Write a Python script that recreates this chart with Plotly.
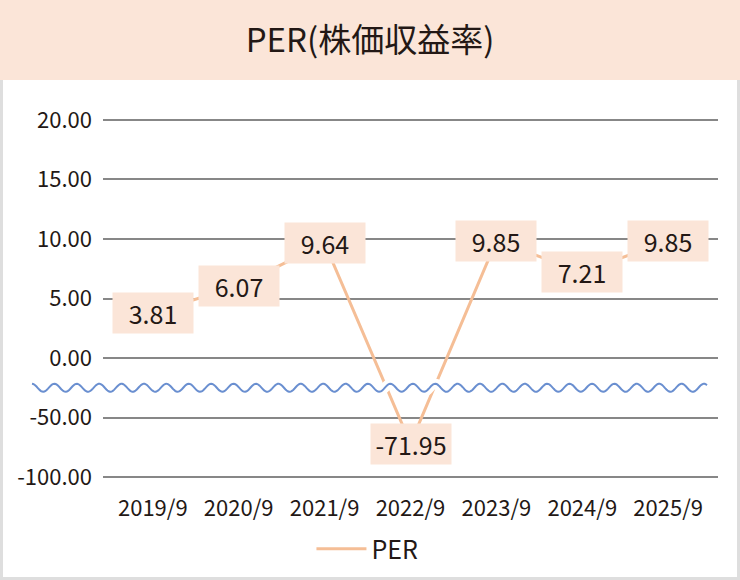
import numpy as np
import plotly.graph_objects as go

# data
periods = ["2019/9", "2020/9", "2021/9", "2022/9", "2023/9", "2024/9", "2025/9"]
per_values = [3.81, 6.07, 9.64, -71.95, 9.85, 7.21, 9.85]
tick_values = [20, 15, 10, 5, 0, -50, -100]

LINE_COLOR = "#F5BE96"
PEACH = "#FBE5D8"
TEXT_COLOR = "#231815"
GRID_COLOR = "#878787"
FONT = "Noto Sans CJK JP, Noto Sans, sans-serif"

W, H = 740, 580
ML, MR, MT, MB = 103, 22, 117, 100
Y_RANGE = [-2.05, 4.05]


def to_axis(v):
    """Broken scale: 5 per step above zero, 50 per step below."""
    return v / 5 if v >= 0 else v / 50


y_plot = [to_axis(v) for v in per_values]
tickvals = [to_axis(v) for v in tick_values]
ticktext = [f"{v:.2f}" for v in tick_values]

fig = go.Figure()
fig.add_trace(go.Scatter(
    x=periods,
    y=y_plot,
    mode="lines",
    name="PER",
    line=dict(color=LINE_COLOR, width=3),
    hoverinfo="skip",
))

# value labels sitting on the points
for p, v, yv in zip(periods, per_values, y_plot):
    fig.add_annotation(
        x=p, y=yv, xref="x", yref="y",
        text=f"{v:.2f}", showarrow=False,
        bgcolor=PEACH, width=72, height=32, borderpad=4,
        font=dict(size=25, color=TEXT_COLOR, family=FONT),
    )

# paper-fraction helpers for the decorations
pw, ph = W - ML - MR, H - MT - MB
def px_x(px):
    return (px - ML) / pw
def px_y(py):
    return (H - MB - py) / ph

# outer frame and title banner
fig.add_shape(type="rect", xref="paper", yref="paper",
              x0=px_x(1.5), x1=px_x(W - 1.5), y0=px_y(H - 1.5), y1=px_y(1.5),
              line=dict(color="#dedede", width=3), fillcolor="white", layer="below")
fig.add_shape(type="rect", xref="paper", yref="paper",
              x0=px_x(0), x1=px_x(W), y0=px_y(80), y1=px_y(0),
              line=dict(width=0), fillcolor=PEACH, layer="below")

# wavy break mark between 0 and -50
wx = np.linspace(px_x(32), px_x(707), 600)
period = 22.4 / pw
amp = 4 / (ph / (Y_RANGE[1] - Y_RANGE[0]))
wy = -0.5 + amp * np.cos(2 * np.pi * (wx - wx[0]) / period)
wave = "M" + " L".join(f"{a:.5f},{b:.5f}" for a, b in zip(wx, wy))
fig.add_shape(type="path", path=wave, xref="paper", yref="y",
              line=dict(color="white", width=10), layer="above")
fig.add_shape(type="path", path=wave, xref="paper", yref="y",
              line=dict(color="#6A8FD0", width=2), layer="above")

fig.update_layout(
    width=W, height=H,
    margin=dict(l=ML, r=MR, t=MT, b=MB, autoexpand=False),
    paper_bgcolor="white",
    plot_bgcolor="white",
    font=dict(family=FONT, color=TEXT_COLOR),
    title=dict(text="PER(株価収益率)", x=0.5, xref="container", xanchor="center",
               y=1 - 40 / H, yref="container", yanchor="middle",
               font=dict(size=33, color=TEXT_COLOR, family=FONT)),
    showlegend=True,
    legend=dict(orientation="h", x=0.43, xanchor="center", y=px_y(549), yanchor="middle",
                font=dict(size=25, color=TEXT_COLOR, family=FONT), itemwidth=50),
    xaxis=dict(range=[-0.58, 6.58], showgrid=False, zeroline=False, showline=False,
               ticks="", ticklabelstandoff=13,
               tickfont=dict(size=22, color=TEXT_COLOR, family=FONT)),
    yaxis=dict(range=Y_RANGE, tickvals=tickvals, ticktext=ticktext,
               showgrid=True, gridcolor=GRID_COLOR, gridwidth=1.5,
               zeroline=False, showline=False, ticks="", ticklabelstandoff=10,
               tickfont=dict(size=22, color=TEXT_COLOR, family=FONT)),
)

# drop the default page margin so the figure sits at the window corner
fig.write_html("out.html", config={"displayModeBar": False},
               post_script="document.body.style.margin='0';")
